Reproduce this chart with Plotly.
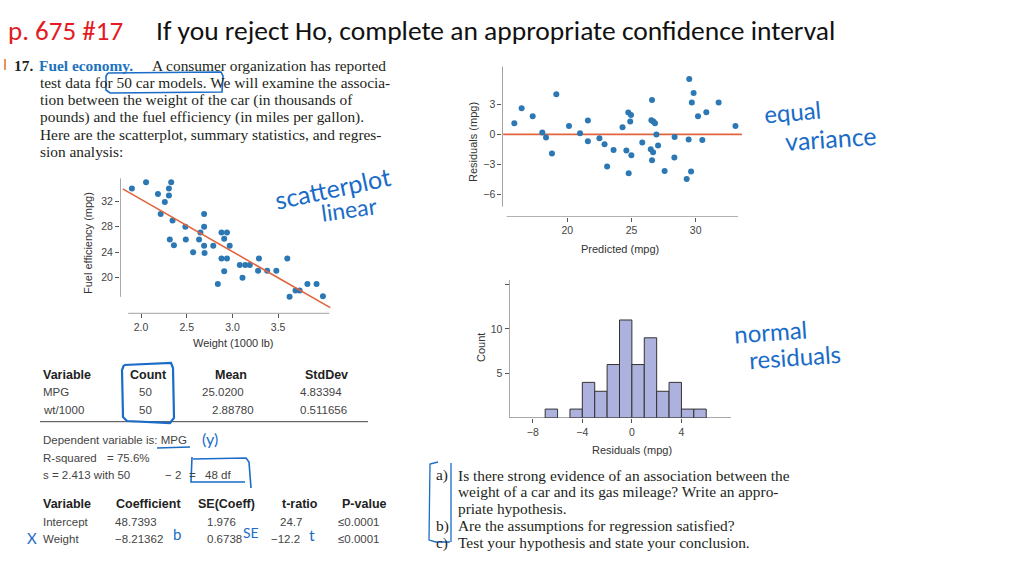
import plotly.graph_objects as go

W, H = 1024, 576
def px(x): return x / W
def py(y): return 1 - y / H

# ---------------- data ----------------
weight = [1.90, 2.055, 2.185, 2.26, 2.215, 2.305, 2.305, 2.33, 2.345, 2.315, 2.36, 2.485, 2.49,
          2.57, 2.635, 2.65, 2.69, 2.69, 2.69, 2.695, 2.79, 2.84, 2.88, 2.94, 2.91, 2.88, 2.94,
          2.91, 2.97, 3.08, 3.14, 3.11, 3.19, 3.29, 3.28, 3.38, 3.48, 3.60, 3.625, 3.69, 3.735,
          3.82, 3.92, 3.99]
mpg = [34.0, 35.0, 33.15, 31.9, 30.0, 34.0, 32.9, 35.0, 29.0, 26.0, 25.1, 28.0, 26.0,
       24.0, 26.0, 27.1, 30.0, 28.0, 25.0, 23.9, 25.0, 19.0, 27.1, 27.1, 26.1, 23.0, 23.0,
       21.0, 25.0, 22.0, 22.0, 20.0, 22.0, 23.0, 21.1, 21.1, 21.1, 23.0, 17.0, 18.0, 18.0,
       19.0, 19.0, 17.1]
intercept = 48.7393
slope = -8.21362
fit_range = [1.80, 4.07]

predicted = [15.87, 16.44, 17.3, 18.05, 18.34, 18.8, 19.14, 20.13, 20.99, 21.6, 21.6, 22.5,
             22.9, 23.1, 23.6, 24.3, 24.6, 24.75, 24.96, 24.9, 24.99, 24.78, 25.84, 26.5, 26.6,
             26.55, 26.7, 26.83, 26.68, 26.6, 26.94, 27.07, 27.58, 28.36, 28.34, 29.3, 29.45,
             29.5, 29.84, 29.7, 29.64, 30.18, 30.52, 30.83, 31.79, 33.1]
residuals = [1.1, 2.6, 1.8, 0.17, -0.33, -1.93, 4.0, 0.83, 0.1, 1.37, -0.7, -0.4,
             -1.0, -3.23, -1.57, 0.7, -1.63, 2.17, 1.93, 1.27, -2.1, -3.9, -0.83, -1.5, 3.43,
             1.4, 1.27, 1.1, -1.8, -2.6, -0.03, -1.13, -3.67, -0.27, -2.33, -4.47, -0.53,
             5.53, 4.13, 3.17, -3.73, 1.8, -0.57, 2.2, 3.17, 0.83]
zero_range = [15.0, 33.6]

bin_starts = [-8, -7, -6, -5, -4, -3, -2, -1, 0, 1, 2, 3, 4, 5]
bin_counts = [0, 1, 0, 1, 4, 3, 6, 11, 6, 9, 3, 4, 1, 1]

summary_vars = ["MPG", "wt/1000"]
summary_counts = ["50", "50"]
summary_means = ["25.0200", "2.88780"]
summary_sds = ["4.83394", "0.511656"]

coef_vars = ["Intercept", "Weight"]
coef_vals = ["48.7393", "\u22128.21362"]
coef_se = ["1.976", "0.6738"]
coef_t = ["24.7", "\u221212.2"]
coef_p = ["\u22640.0001", "\u22640.0001"]

problem_lines = [
    "test data for 50 car models. We will examine the associa-",
    "tion between the weight of the car (in thousands of",
    "pounds) and the fuel efficiency (in miles per gallon).",
    "Here are the scatterplot, summary statistics, and regres-",
    "sion analysis:",
]
question_labels = ["a)", "", "", "b)", "c)"]
question_lines = [
    "Is there strong evidence of an association between the",
    "weight of a car and its gas mileage? Write an appro-",
    "priate hypothesis.",
    "Are the assumptions for regression satisfied?",
    "Test your hypothesis and state your conclusion.",
]

# ---------------- style ----------------
DOT = "#2b78b4"
FIT = "#e2643c"
BAR = "#adb1dd"
INK = "#1a6cc8"
AX = "#555555"
NARROW = "Liberation Sans Narrow, Arial Narrow, Liberation Sans, sans-serif"
SANS = "Liberation Sans, Arial, sans-serif"
SERIF = "Liberation Serif, Times New Roman, serif"
HAND = "Lato, Open Sans, sans-serif"
TITLE = "Carlito, Lato, sans-serif"

fig = go.Figure()

# scatterplot
fig.add_trace(go.Scatter(x=weight, y=mpg, mode="markers",
                         marker=dict(size=6, color=DOT), xaxis="x", yaxis="y"))
fig.add_trace(go.Scatter(x=fit_range, y=[intercept + slope * v for v in fit_range], mode="lines",
                         line=dict(color=FIT, width=1.6), xaxis="x", yaxis="y"))
# residual plot
fig.add_trace(go.Scatter(x=zero_range, y=[0, 0], mode="lines",
                         line=dict(color=FIT, width=1.8), xaxis="x2", yaxis="y2"))
fig.add_trace(go.Scatter(x=predicted, y=residuals, mode="markers",
                         marker=dict(size=6, color=DOT), xaxis="x2", yaxis="y2"))
# histogram
hx = [s + 0.5 for s, c in zip(bin_starts, bin_counts) if c > 0]
hy = [c for c in bin_counts if c > 0]
fig.add_trace(go.Bar(x=hx, y=hy, width=1, marker=dict(color=BAR, line=dict(color="#333", width=1)),
                     xaxis="x3", yaxis="y3"))

tickfont = dict(family=NARROW, size=10.5, color="#444")
def ax(domain, rng, tickvals, ticktext, anchor):
    return dict(domain=domain, range=rng, tickvals=tickvals, ticktext=ticktext, anchor=anchor,
                showgrid=False, zeroline=False, showline=False, ticks="outside", ticklen=4,
                tickcolor=AX, tickwidth=1, tickfont=tickfont, fixedrange=True)

fig.update_layout(
    xaxis=ax([px(120), px(333)], [1.77, 4.1], [2.0, 2.5, 3.0, 3.5], ["2.0", "2.5", "3.0", "3.5"], "y"),
    yaxis=ax([py(313.4), py(175.8)], [14.4, 36], [20, 24, 28, 32], ["20", "24", "28", "32"], "x"),
    xaxis2=ax([px(502.4), px(747)], [14.94, 34], [20, 25, 30], ["20", "25", "30"], "y2"),
    yaxis2=ax([py(216.6), py(64.3)], [-8.23, 7], [-6, -3, 0, 3], ["\u22126", "\u22123", "0", "3"], "x2"),
    xaxis3=ax([px(509.5), px(731)], [-9.88, 8], [-8, -4, 0, 4], ["\u22128", "\u22124", "0", "4"], "y3"),
    yaxis3=ax([py(418), py(279)], [0, 15.6], [5, 10, 15], ["5", "10", ""], "x3"),
)

shapes = []
def seg(x0, y0, x1, y1, xr, yr, color=AX, width=1):
    shapes.append(dict(type="line", x0=x0, y0=y0, x1=x1, y1=y1, xref=xr, yref=yr,
                       line=dict(color=color, width=width)))
# axis lines
seg(1.77, 17.0, 1.77, 35.6, "x", "y")
seg(1.86, 14.4, 4.06, 14.4, "x", "y")
seg(14.94, -7.23, 14.94, 6.77, "x2", "y2")
seg(15.27, -8.23, 33.3, -8.23, "x2", "y2")
seg(-9.88, 0, -9.88, 15.5, "x3", "y3")
seg(-9.88, 0, 8, 0, "x3", "y3")
# table rule
seg(px(40), py(421.7), px(368), py(421.7), "paper", "paper", color="#444", width=1)
# small mark at left
seg(px(5), py(59), px(5), py(70), "paper", "paper", color="#e07020", width=1.5)

def path(d, color=INK, width=1.6):
    shapes.append(dict(type="path", path=d, xref="paper", yref="paper",
                       line=dict(color=color, width=width)))
def P(pts):
    return "M " + " L ".join(f"{px(x):.5f},{py(y):.5f}" for x, y in pts)

# hand-drawn boxes / marks
path(P([(108, 73), (221, 72), (223, 76), (222, 92), (110, 93), (106, 90), (106, 76), (108, 73)]))
path(P([(124, 365), (171, 363), (173, 368), (174, 418), (170, 423), (127, 421), (123, 417), (122, 370), (124, 365)]), width=2.2)
path(P([(193, 459), (246, 458), (249, 462), (251, 488)]) + " " + P([(192, 457), (191, 482), (245, 482)]), width=1.6)
path(P([(157, 448), (190, 447)]), width=1.3)
path(P([(438, 462), (430, 464), (429, 540), (436, 542), (450, 542)]) + " " + P([(451, 463), (451, 542)]), width=1.3)

fig.update_layout(shapes=shapes)

ann = []
def txt(x, y, s, size=12, color="#222", family=SANS, xanchor="left", angle=0, bold=False):
    if bold:
        s = f"<b>{s}</b>"
    ann.append(dict(x=px(x), y=py(y), xref="paper", yref="paper", text=s, showarrow=False,
                    xanchor=xanchor, yanchor="middle", textangle=angle,
                    font=dict(size=size, color=color, family=family)))

# title
txt(6, 30, "p. 675 #17", size=27, color="#e31b23", family=TITLE)
txt(154, 30, "If you reject Ho, complete an appropriate confidence interval", size=27.5, color="#111", family=TITLE)

# problem text
SZ = 15.4
txt(12, 65, "17.", size=SZ, family=SERIF, bold=True, color="#231f20")
txt(37, 65, "Fuel economy.", size=SZ, family=SERIF, bold=True, color="#1e73be")
txt(150, 65, "A consumer organization has reported", size=SZ, family=SERIF, color="#231f20")
for i, line in enumerate(problem_lines):
    txt(38, 82.3 + i * 17.35, line, size=SZ, family=SERIF, color="#231f20")

# questions
for i, (lab, line) in enumerate(zip(question_labels, question_lines)):
    yy = 475 + i * 16.9
    if lab:
        txt(434, yy, lab, size=15.4, family=SERIF, color="#231f20")
    txt(456, yy, line, size=15.4, family=SERIF, color="#231f20")

# axis titles
LS = 11
txt(233, 343, "Weight (1000 lb)", size=LS, family=NARROW, color="#333", xanchor="center")
txt(88, 243, "Fuel efficiency (mpg)", size=LS, family=NARROW, color="#333", xanchor="center", angle=-90)
txt(620, 249, "Predicted (mpg)", size=LS, family=NARROW, color="#333", xanchor="center")
txt(473, 142, "Residuals (mpg)", size=LS, family=NARROW, color="#333", xanchor="center", angle=-90)
txt(632, 450, "Residuals (mpg)", size=LS, family=NARROW, color="#333", xanchor="center")
txt(481, 348, "Count", size=LS, family=NARROW, color="#333", xanchor="center", angle=-90)

# summary table
txt(41, 375, "Variable", size=12.5, bold=True, color="#222")
txt(148, 375, "Count", size=12.5, bold=True, color="#222", xanchor="center")
txt(231, 375, "Mean", size=12.5, bold=True, color="#222", xanchor="center")
txt(326, 375, "StdDev", size=12.5, bold=True, color="#222", xanchor="center")
mean_x = [200, 210]
for i in range(2):
    yy = 392.3 + i * 17.6
    txt(41, yy, summary_vars[i], size=11.5, color="#444")
    txt(145, yy, summary_counts[i], size=11.5, color="#444", xanchor="center")
    txt(mean_x[i], yy, summary_means[i], size=11.5, color="#444")
    txt(298, yy, summary_sds[i], size=11.5, color="#444")

txt(41, 440, "Dependent variable is: MPG", size=11.5, color="#444")
txt(41, 457.7, "R-squared", size=11.5, color="#444")
txt(105, 457.7, "= 75.6%", size=11.5, color="#444")
txt(41, 475, "s = 2.413 with 50", size=11.5, color="#444")
txt(163, 475, "\u2212 2", size=11.5, color="#444")
txt(187, 475, "=", size=11.5, color="#444")
txt(203, 475, "48 df", size=11.5, color="#444")

txt(41, 504, "Variable", size=12.5, bold=True, color="#222")
txt(148.5, 504, "Coefficient", size=12.5, bold=True, color="#222", xanchor="center")
txt(226, 504, "SE(Coeff)", size=12.5, bold=True, color="#222", xanchor="center")
txt(299.5, 504, "t-ratio", size=12.5, bold=True, color="#222", xanchor="center")
txt(364.5, 504, "P-value", size=12.5, bold=True, color="#222", xanchor="center")
t_x = [278, 269]
for i in range(2):
    yy = 522.3 + i * 17
    txt(41, yy, coef_vars[i], size=11.5, color="#444")
    txt(113, yy, coef_vals[i], size=11.5, color="#444")
    txt(205, yy, coef_se[i], size=11.5, color="#444")
    txt(t_x[i], yy, coef_t[i], size=11.5, color="#444")
    txt(336, yy, coef_p[i], size=11.5, color="#444")

# handwritten notes
txt(332, 188, "scatterplot", size=25, color=INK, family=HAND, xanchor="center", angle=-12)
txt(349, 209, "linear", size=23, color=INK, family=HAND, xanchor="center", angle=-8)
txt(792, 112, "equal", size=24, color=INK, family=HAND, xanchor="center", angle=-5)
txt(830, 138, "variance", size=25, color=INK, family=HAND, xanchor="center", angle=-4)
txt(770, 331, "normal", size=24, color=INK, family=HAND, xanchor="center", angle=-4)
txt(795, 356, "residuals", size=24, color=INK, family=HAND, xanchor="center", angle=-4)
txt(210, 438, "(y)", size=16, color=INK, family=HAND, xanchor="center")
txt(177, 534, "b", size=15, color=INK, family=HAND, xanchor="center")
txt(251, 532, "SE", size=14, color=INK, family=HAND, xanchor="center")
txt(312, 534, "t", size=16, color=INK, family=HAND, xanchor="center")
txt(32, 538, "X", size=15, color=INK, family=HAND, xanchor="center")

fig.update_layout(annotations=ann, width=W, height=H, margin=dict(l=0, r=0, t=0, b=0),
                  paper_bgcolor="white", plot_bgcolor="rgba(0,0,0,0)", showlegend=False)

fig.write_html("out.html", config={"displayModeBar": False},
               post_script="document.body.style.margin='0';document.body.style.overflow='hidden';")
